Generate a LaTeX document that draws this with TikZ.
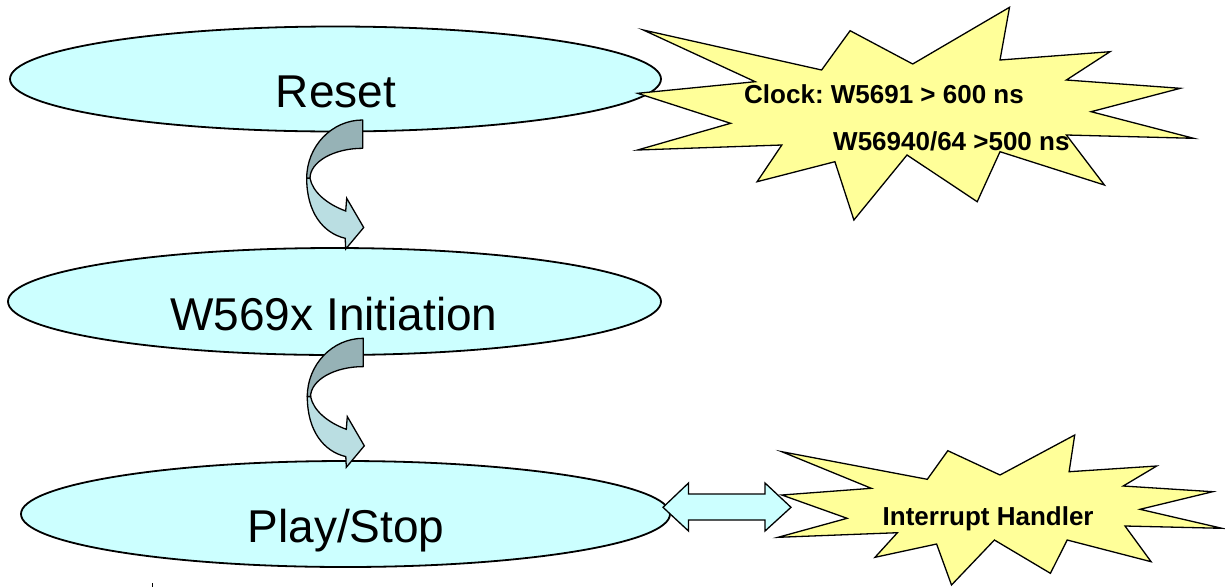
\documentclass[tikz,border=0pt]{standalone}
\usepackage{fontspec}
\setmainfont{Liberation Sans}
\usetikzlibrary{shapes.geometric}
\frenchspacing
\definecolor{ellfill}{RGB}{204,255,255}
\definecolor{burstfill}{RGB}{255,255,153}
\definecolor{arrdark}{RGB}{150,178,182}
\definecolor{arrlight}{RGB}{186,222,226}
\tikzset{
  stateell/.style={ellipse, draw=black, line width=1.8pt, fill=ellfill, inner sep=0pt},
  biglabel/.style={anchor=base, inner sep=0pt, font=\fontsize{46}{50}\selectfont},
  burstlabel/.style={anchor=base west, inner sep=0pt, font=\fontsize{26}{30}\selectfont\bfseries},
  burst/.style={draw=black, line width=1.3pt, fill=burstfill, line join=miter},
  curvdark/.style={draw=black, line width=1.3pt, fill=arrdark, line join=round},
  curvlight/.style={draw=black, line width=1.3pt, fill=arrlight, line join=miter},
  dblarrow/.style={draw=black, line width=1.3pt, fill=ellfill, line join=miter},
  curvarrow/.pic={
    \path[curvdark] (0,0) -- (0,28.3) .. controls (-29,28.3) and (-52.7,41.8) .. (-52.7,58.3)
      -- (-56,58.3) .. controls (-56,26.2) and (-30.8,0) .. cycle;
    \path[curvlight] (-56,58.3) .. controls (-56,92) and (-40,113) .. (-17.5,118.3)
      -- (-17,129) -- (1,107.5) -- (-16,78.3) -- (-17,91)
      .. controls (-36,84) and (-50,72) .. (-52.7,58.3) -- cycle;
  }
}
\begin{document}
\begin{tikzpicture}[x=1pt,y=-1pt]
\useasboundingbox (0,0) rectangle (1225,587);
% states
\node[stateell, minimum width=651pt, minimum height=105pt] (reset) at (335.5,79) {};
\node[stateell, minimum width=653pt, minimum height=107pt] (init) at (334.5,301.5) {};
\node[stateell, minimum width=649pt, minimum height=106pt] (play) at (345.5,514) {};
\node[biglabel] (resetlbl) at (336,107) {Reset};
\node[biglabel] (initlbl) at (334,330) {W569x Initiation};
\node[biglabel] (playlbl) at (346,542) {Play/Stop};
% burst 1
\path[burst] (643.3,30) -- (821.6,70) -- (850.1,30.7) -- (912.7,64) -- (1009.5,7.3)
  -- (1000,60) -- (1110,51.7) -- (1066.4,80) -- (1180.3,88.3) -- (1091.1,111.7)
  -- (1193.6,138.3) -- (1066.4,135) -- (1104.4,185) -- (1000,151.7) -- (977.2,201.7)
  -- (907,155) -- (853.9,220) -- (834.9,161.7) -- (757.1,181.7) -- (781.8,145)
  -- (637.6,150) -- (730.6,123.3) -- (637.6,93.3) -- (755.2,81.7) -- cycle;
\node[burstlabel] (clock1) at (744,103) {Clock: W5691 > 600 ns};
\node[burstlabel] (clock2) at (833,150) {W56940/64 >500 ns};
% burst 2
\path[burst] (781.8,451.7) -- (927.3,479.3) -- (947.8,450.7) -- (1000,475) -- (1074.7,435)
  -- (1069.1,471.7) -- (1156.7,466) -- (1123.2,486) -- (1212.7,491.7) -- (1140,509.3)
  -- (1222,528.3) -- (1125,526) -- (1151.1,561.7) -- (1067.2,540) -- (1050.4,573.3)
  -- (994.4,540) -- (951.5,585) -- (936.6,544) -- (875,557.3) -- (897.4,532.7)
  -- (778,537.3) -- (847.1,518.3) -- (781.8,495) -- (871.3,488.3) -- cycle;
\node[burstlabel] (irq) at (882.5,525) {Interrupt Handler};
% curved arrows
\pic at (362.7,120) {curvarrow};
\pic at (363.3,338.3) {curvarrow};
% double arrow
\path[dblarrow] (663,507.3) -- (688.5,483) -- (688.5,494) -- (765,494) -- (765,483)
  -- (791,507.3) -- (765,531) -- (765,520) -- (688.5,520) -- (688.5,531) -- cycle;
% small mark
\draw[line width=1pt] (152,583) -- (152,587);
\end{tikzpicture}
\end{document}
